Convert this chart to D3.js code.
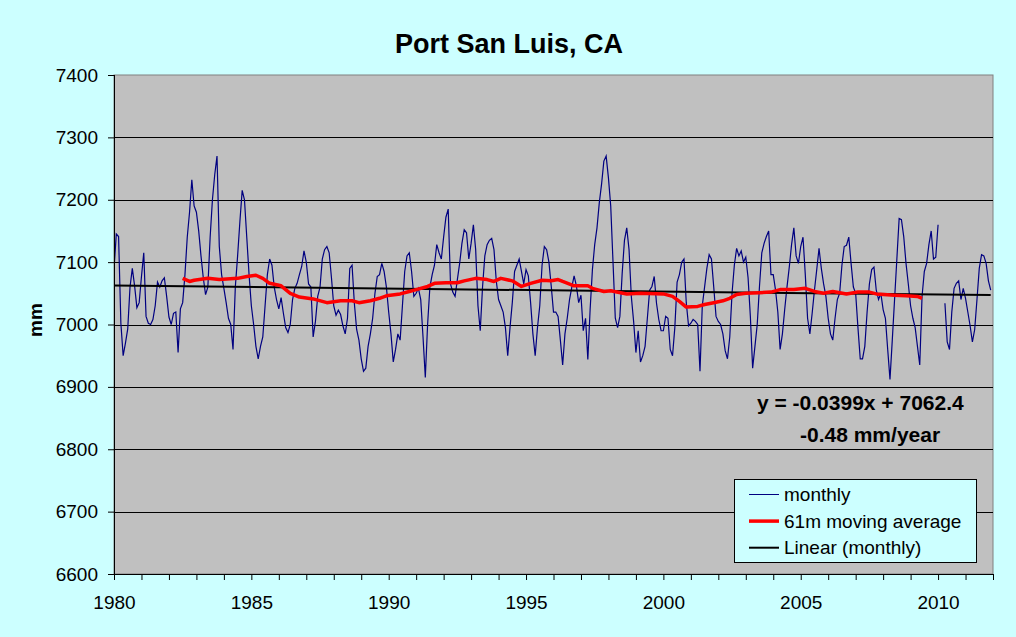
<!DOCTYPE html>
<html>
<head>
<meta charset="utf-8">
<script src="https://cdn.jsdelivr.net/npm/d3@7"></script>
<style>
  html, body { margin: 0; padding: 0; background: #CCFFFF; }
  svg { display: block; font-family: "Liberation Sans", Arial, sans-serif; }
</style>
</head>
<body>
<svg id="chart" width="1016" height="637"></svg>
<script>
// ---- data ----
const startYear = 1980;           // first month = Jan 1980
const monthly = [
  // 1980
  7088, 7145, 7141, 7002, 6950, 6970, 6993, 7060, 7090, 7062, 7027, 7035,
  // 1981
  7077, 7115, 7013, 7002, 7000, 7008, 7030, 7068, 7060, 7070, 7075, 7045,
  // 1982
  7012, 7000, 7018, 7020, 6955, 7025, 7035, 7080, 7140, 7180, 7232, 7190,
  // 1983
  7180, 7150, 7110, 7075, 7048, 7060, 7140, 7200, 7240, 7270, 7125, 7080,
  // 1984
  7058, 7035, 7010, 7000, 6960, 7060, 7110, 7165, 7215, 7200, 7140, 7080,
  // 1985
  7030, 7000, 6965, 6945, 6965, 6980, 7030, 7080, 7105, 7095, 7060, 7040,
  // 1986
  7025, 7043, 7018, 6995, 6987, 7000, 7040, 7058, 7066, 7080, 7093, 7118,
  // 1987
  7100, 7065, 7060, 6980, 7005, 7045, 7060, 7105, 7120, 7125, 7115, 7075,
  // 1988
  7030, 7015, 7023, 7016, 6998, 6985, 7010, 7090, 7095, 7034, 6992, 6975,
  // 1989
  6945, 6925, 6930, 6965, 6985, 7010, 7050, 7077, 7080, 7098, 7085, 7060,
  // 1990
  7020, 6985, 6940, 6960, 6985, 6975, 7030, 7085, 7110, 7115, 7085, 7045,
  // 1991
  7050, 7058, 7040, 6980, 6915, 7000, 7060, 7080, 7095, 7128, 7115, 7105,
  // 1992
  7140, 7172, 7185, 7065, 7052, 7045, 7072, 7098, 7130, 7152, 7147, 7105,
  // 1993
  7130, 7160, 7120, 7030, 6990, 7060, 7110, 7128, 7135, 7138, 7120, 7070,
  // 1994
  7040, 7030, 7020, 6995, 6950, 6995, 7035, 7085, 7095, 7105, 7085, 7065,
  // 1995
  7088, 7078, 7035, 6985, 6950, 6995, 7030, 7095, 7125, 7120, 7100, 7062,
  // 1996
  7020, 7020, 7013, 6975, 6935, 6985, 7010, 7040, 7060, 7078, 7062, 7035,
  // 1997
  7047, 6990, 7010, 6944, 7024, 7088, 7128, 7155, 7195, 7225, 7262, 7270,
  // 1998
  7235, 7190, 7100, 7010, 6995, 7013, 7082, 7135, 7155, 7120, 7045, 7005,
  // 1999
  6955, 6990, 6940, 6950, 6965, 7010, 7055, 7061, 7077, 7034, 7008, 6990,
  // 2000
  6990, 7013, 7010, 6960, 6950, 6995, 7068, 7080, 7100, 7105, 7035, 6998,
  // 2001
  7002, 7008, 7005, 7000, 6925, 7030, 7060, 7090, 7112, 7105, 7060, 7013,
  // 2002
  7005, 7000, 6985, 6958, 6945, 6980, 7050, 7095, 7122, 7110, 7118, 7100,
  // 2003
  7108, 7075, 7013, 6930, 6965, 7000, 7062, 7115, 7130, 7141, 7150, 7080,
  // 2004
  7080, 7055, 7020, 6960, 6985, 7024, 7060, 7092, 7128, 7155, 7110, 7098,
  // 2005
  7125, 7140, 7080, 7010, 6985, 7018, 7055, 7088, 7122, 7090, 7065, 7045,
  // 2006
  7010, 6985, 6975, 7010, 7040, 7050, 7095, 7125, 7127, 7140, 7098, 7060,
  // 2007
  7050, 6995, 6945, 6945, 6965, 7020, 7065, 7088, 7092, 7055, 7040, 7050,
  // 2008
  7024, 7010, 6960, 6912, 6975, 7040, 7105, 7170, 7168, 7141, 7098, 7065,
  // 2009
  7030, 7010, 6995, 6965, 6935, 7045, 7085, 7098, 7128, 7150, 7105, 7108,
  // 2010
  7160, null, null, 7034, 6972, 6960, 7020, 7058, 7066, 7070, 7040, 7058,
  // 2011
  7042, 7020, 6998, 6972, 6992, 7040, 7090, 7112, 7110, 7098, 7070, 7055
];

// 61-month moving average, read at these month indices
const maMonths = [30, 33, 35, 41, 46, 54, 58, 62, 65, 68, 73, 77, 81, 87, 93,
  99, 104, 107, 112, 116, 119, 125, 129, 132, 137, 140, 145, 150, 153, 158,
  163, 166, 169, 174, 178, 182, 187, 191, 194, 196, 201, 207, 209, 214, 217,
  224, 230, 240, 244, 247, 250, 255, 258, 262, 266, 269, 272, 276, 282, 287,
  291, 297, 302, 306, 310, 314, 320, 325, 330, 333, 341, 346, 351, 353];
const maValues = [7074, 7069, 7071, 7074, 7072, 7074, 7077, 7079, 7074, 7066, 7062, 7050, 7044, 7041, 7035,
  7038, 7038, 7035, 7038, 7042, 7046, 7049, 7053, 7056, 7061, 7066, 7067, 7067, 7070, 7074,
  7072, 7069, 7074, 7070, 7061, 7066, 7071, 7070, 7072, 7069, 7062, 7062, 7058, 7053, 7054,
  7049, 7050, 7049, 7045, 7037, 7028, 7029, 7032, 7035, 7038, 7042, 7048, 7050, 7051, 7052,
  7056, 7056, 7058, 7053, 7050, 7053, 7049, 7052, 7052, 7049, 7047, 7046, 7045, 7042];

// linear trend y = -0.0399x + 7062.4, endpoints
const trendMonths = [0, 383];
const trendValues = [7062.4, 7047.1];

const yTicks = [6600, 6700, 6800, 6900, 7000, 7100, 7200, 7300, 7400];
const yearTicks = d3.range(1980, 2013);
const labelYears = [1980, 1985, 1990, 1995, 2000, 2005, 2010];

const titleText = 'Port San Luis, CA';
const yLabel = 'mm';
const eqText = 'y = -0.0399x + 7062.4';
const rateText = '-0.48 mm/year';
const legendItems = [
  { label: 'monthly', color: '#000080', width: 1 },
  { label: '61m moving average', color: '#FF0000', width: 3.5 },
  { label: 'Linear (monthly)', color: '#000000', width: 2 }
];

// ---- layout ----
const W = 1016, H = 637;
const plot = { left: 114, top: 75, right: 993, bottom: 574 };
const FONT = 19;

const svg = d3.select('#chart');
svg.append('rect').attr('width', W).attr('height', H).attr('fill', '#CCFFFF');

const x = d3.scaleLinear().domain([1980, 2012]).range([plot.left, plot.right]);
const y = d3.scaleLinear().domain([6600, 7400]).range([plot.bottom, plot.top]);
const monthX = i => x(startYear + i / 12);

// plot area
svg.append('rect')
  .attr('x', plot.left).attr('y', plot.top)
  .attr('width', plot.right - plot.left).attr('height', plot.bottom - plot.top)
  .attr('fill', '#C0C0C0').attr('stroke', '#808080').attr('stroke-width', 1);

// gridlines
svg.append('g')
  .selectAll('line')
  .data(yTicks.filter(v => v > 6600 && v < 7400))
  .join('line')
  .attr('x1', plot.left).attr('x2', plot.right)
  .attr('y1', d => Math.round(y(d)) + 0.5).attr('y2', d => Math.round(y(d)) + 0.5)
  .attr('stroke', '#000').attr('stroke-width', 1);

// series
svg.append('clipPath').attr('id', 'plotclip')
  .append('rect').attr('x', plot.left).attr('y', plot.top)
  .attr('width', plot.right - plot.left).attr('height', plot.bottom - plot.top);
const series = svg.append('g').attr('clip-path', 'url(#plotclip)');

const monthlyLine = d3.line()
  .defined(d => d != null)
  .x((d, i) => monthX(i))
  .y(d => y(d));
series.append('path')
  .datum(monthly)
  .attr('d', monthlyLine)
  .attr('fill', 'none').attr('stroke', '#000080').attr('stroke-width', 1.2);

const pairLine = d3.line().x(d => monthX(d[0])).y(d => y(d[1]));
series.append('path')
  .datum(trendMonths.map((m, i) => [m, trendValues[i]]))
  .attr('d', pairLine)
  .attr('fill', 'none').attr('stroke', '#000').attr('stroke-width', 2);

series.append('path')
  .datum(maMonths.map((m, i) => [m, maValues[i]]))
  .attr('d', pairLine)
  .attr('fill', 'none').attr('stroke', '#FF0000').attr('stroke-width', 3.5)
  .attr('stroke-linejoin', 'round');

// axes
const yAxis = svg.append('g')
  .attr('transform', `translate(${plot.left},0)`)
  .call(d3.axisLeft(y).tickValues(yTicks).tickSize(6).tickPadding(10).tickFormat(d3.format('d')));
const xAxis = svg.append('g')
  .attr('transform', `translate(0,${plot.bottom})`)
  .call(d3.axisBottom(x).tickValues(yearTicks).tickSize(6).tickPadding(15.5)
    .tickFormat(d => labelYears.includes(d) ? String(d) : ''));
[yAxis, xAxis].forEach(a => {
  a.select('.domain').attr('stroke', '#000');
  a.selectAll('.tick line').attr('stroke', '#000');
  a.selectAll('text').attr('fill', '#000').attr('font-size', FONT)
    .attr('font-family', '"Liberation Sans", Arial, sans-serif');
});
xAxis.select('.domain').attr('d', `M${plot.left},0.5H${plot.right}`);
yAxis.select('.domain').attr('d', `M0.5,${plot.top}V${plot.bottom}`);

// titles
svg.append('text')
  .attr('x', 509).attr('y', 53)
  .attr('text-anchor', 'middle')
  .attr('font-size', 27).attr('font-weight', 'bold')
  .text(titleText);

svg.append('text')
  .attr('transform', 'translate(42,320) rotate(-90)')
  .attr('text-anchor', 'middle')
  .attr('font-size', FONT).attr('font-weight', 'bold')
  .text(yLabel);

// trend equation
svg.append('text')
  .attr('x', 757).attr('y', 410)
  .attr('font-size', 21).attr('font-weight', 'bold')
  .text(eqText);
svg.append('text')
  .attr('x', 800).attr('y', 442)
  .attr('font-size', 21).attr('font-weight', 'bold')
  .text(rateText);

// legend
const lg = svg.append('g').attr('transform', 'translate(734.5,479.5)');
lg.append('rect').attr('width', 242).attr('height', 83)
  .attr('fill', '#CCFFFF').attr('stroke', '#000').attr('stroke-width', 1);
const rows = lg.selectAll('g.row').data(legendItems).join('g')
  .attr('class', 'row')
  .attr('transform', (d, i) => `translate(0,${15 + i * 26.6})`);
rows.append('line')
  .attr('x1', 14.5).attr('x2', 44.5)
  .attr('stroke', d => d.color).attr('stroke-width', d => d.width);
rows.append('text')
  .attr('x', 49.5).attr('y', 6.5)
  .attr('font-size', FONT)
  .text(d => d.label);
</script>
</body>
</html>
